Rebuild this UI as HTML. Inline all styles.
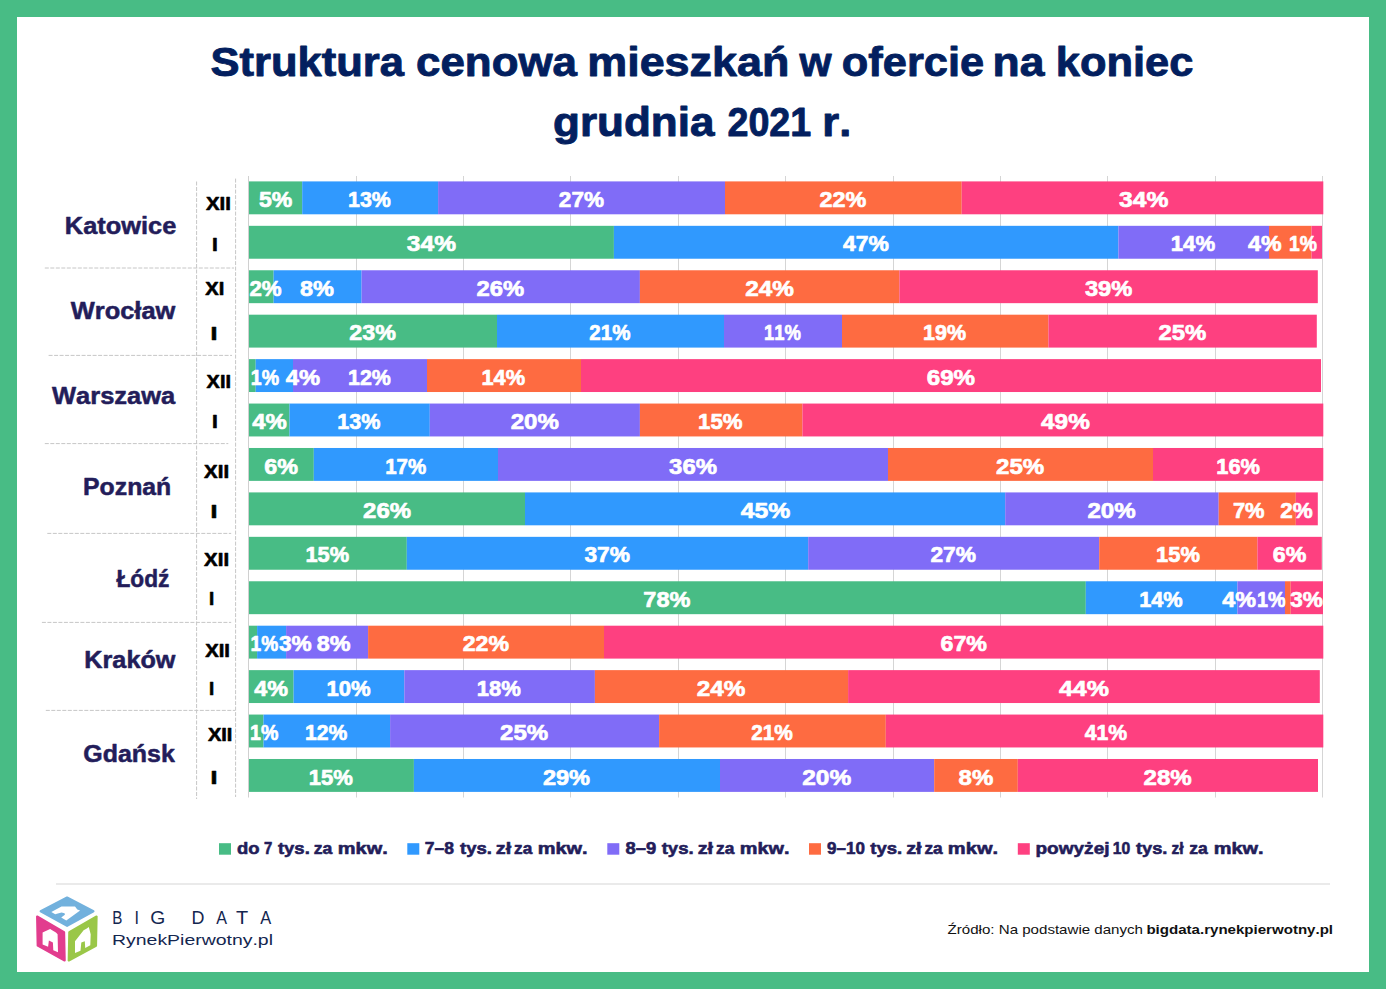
<!DOCTYPE html>
<html><head><meta charset="utf-8"><title>Struktura cenowa mieszkań</title>
<style>
html,body{margin:0;padding:0;background:#fff;}
body{width:1386px;height:989px;overflow:hidden;}
svg{display:block;}
text{font-family:"Liberation Sans", sans-serif;font-kerning:none;}
</style></head><body>
<svg width="1386" height="989" viewBox="0 0 1386 989">
<rect x="0" y="0" width="1386" height="989" fill="#48BC85"/>
<rect x="17" y="17" width="1352" height="955" fill="#FFFFFF"/>
<text x="210.50" y="75.75" font-size="40.00" font-weight="bold" fill="#031F5F" stroke="#031F5F" stroke-width="0.9" stroke-linejoin="round" textLength="193.48" lengthAdjust="spacingAndGlyphs">Struktura</text>
<text x="416.04" y="75.75" font-size="40.00" font-weight="bold" fill="#031F5F" stroke="#031F5F" stroke-width="0.9" stroke-linejoin="round" textLength="160.94" lengthAdjust="spacingAndGlyphs">cenowa</text>
<text x="587.29" y="75.75" font-size="40.00" font-weight="bold" fill="#031F5F" stroke="#031F5F" stroke-width="0.9" stroke-linejoin="round" textLength="202.04" lengthAdjust="spacingAndGlyphs">mieszkań</text>
<text x="799.47" y="75.75" font-size="40.00" font-weight="bold" fill="#031F5F" stroke="#031F5F" stroke-width="0.9" stroke-linejoin="round" textLength="32.10" lengthAdjust="spacingAndGlyphs">w</text>
<text x="841.85" y="75.75" font-size="40.00" font-weight="bold" fill="#031F5F" stroke="#031F5F" stroke-width="0.9" stroke-linejoin="round" textLength="142.38" lengthAdjust="spacingAndGlyphs">ofercie</text>
<text x="992.52" y="75.75" font-size="40.00" font-weight="bold" fill="#031F5F" stroke="#031F5F" stroke-width="0.9" stroke-linejoin="round" textLength="51.85" lengthAdjust="spacingAndGlyphs">na</text>
<text x="1055.72" y="75.75" font-size="40.00" font-weight="bold" fill="#031F5F" stroke="#031F5F" stroke-width="0.9" stroke-linejoin="round" textLength="137.61" lengthAdjust="spacingAndGlyphs">koniec</text>
<text x="553.04" y="136.35" font-size="40.00" font-weight="bold" fill="#031F5F" stroke="#031F5F" stroke-width="0.9" stroke-linejoin="round" textLength="161.43" lengthAdjust="spacingAndGlyphs">grudnia</text>
<text x="727.44" y="136.35" font-size="40.00" font-weight="bold" fill="#031F5F" stroke="#031F5F" stroke-width="0.9" stroke-linejoin="round" textLength="83.75" lengthAdjust="spacingAndGlyphs">2021</text>
<text x="822.39" y="136.35" font-size="40.00" font-weight="bold" fill="#031F5F" stroke="#031F5F" stroke-width="0.9" stroke-linejoin="round" textLength="28.95" lengthAdjust="spacingAndGlyphs">r.</text>
<rect x="356" y="176" width="1" height="621.5" fill="#D5D5D5"/>
<rect x="463" y="176" width="1" height="621.5" fill="#D5D5D5"/>
<rect x="570" y="176" width="1" height="621.5" fill="#D5D5D5"/>
<rect x="678" y="176" width="1" height="621.5" fill="#D5D5D5"/>
<rect x="785" y="176" width="1" height="621.5" fill="#D5D5D5"/>
<rect x="893" y="176" width="1" height="621.5" fill="#D5D5D5"/>
<rect x="1000" y="176" width="1" height="621.5" fill="#D5D5D5"/>
<rect x="1107" y="176" width="1" height="621.5" fill="#D5D5D5"/>
<rect x="1215" y="176" width="1" height="621.5" fill="#D5D5D5"/>
<rect x="1322" y="176" width="1" height="621.5" fill="#D5D5D5"/>
<rect x="248" y="176" width="1" height="621.5" fill="#D0D0D0"/>
<line x1="196.6" y1="181.5" x2="196.6" y2="799" stroke="#C6C6C6" stroke-width="1" stroke-dasharray="4 1.5"/>
<line x1="235.6" y1="178.6" x2="235.6" y2="797" stroke="#C6C6C6" stroke-width="1" stroke-dasharray="4 1.5"/>
<line x1="44.8" y1="268" x2="234" y2="268" stroke="#C6C6C6" stroke-width="1" stroke-dasharray="4 1.5"/>
<line x1="48.6" y1="355.4" x2="232" y2="355.4" stroke="#C6C6C6" stroke-width="1" stroke-dasharray="4 1.5"/>
<line x1="44.8" y1="443.6" x2="228.3" y2="443.6" stroke="#C6C6C6" stroke-width="1" stroke-dasharray="4 1.5"/>
<line x1="47.3" y1="533.4" x2="231.2" y2="533.4" stroke="#C6C6C6" stroke-width="1" stroke-dasharray="4 1.5"/>
<line x1="41.9" y1="622.4" x2="231.2" y2="622.4" stroke="#C6C6C6" stroke-width="1" stroke-dasharray="4 1.5"/>
<line x1="45.8" y1="710.4" x2="235" y2="710.4" stroke="#C6C6C6" stroke-width="1" stroke-dasharray="4 1.5"/>
<rect x="249.00" y="181.40" width="53.20" height="32.9" fill="#48BC85"/>
<rect x="302.20" y="181.40" width="135.90" height="32.9" fill="#3099FE"/>
<rect x="438.10" y="181.40" width="286.90" height="32.9" fill="#806CF7"/>
<rect x="725.00" y="181.40" width="236.70" height="32.9" fill="#FE6B41"/>
<rect x="961.70" y="181.40" width="361.60" height="32.9" fill="#FE4080"/>
<rect x="249.00" y="225.83" width="364.90" height="32.9" fill="#48BC85"/>
<rect x="613.90" y="225.83" width="504.50" height="32.9" fill="#3099FE"/>
<rect x="1118.40" y="225.83" width="150.60" height="32.9" fill="#806CF7"/>
<rect x="1269.00" y="225.83" width="42.50" height="32.9" fill="#FE6B41"/>
<rect x="1311.50" y="225.83" width="10.50" height="32.9" fill="#FE4080"/>
<rect x="249.00" y="270.26" width="24.60" height="32.9" fill="#48BC85"/>
<rect x="273.60" y="270.26" width="88.00" height="32.9" fill="#3099FE"/>
<rect x="361.60" y="270.26" width="278.30" height="32.9" fill="#806CF7"/>
<rect x="639.90" y="270.26" width="259.50" height="32.9" fill="#FE6B41"/>
<rect x="899.40" y="270.26" width="418.40" height="32.9" fill="#FE4080"/>
<rect x="249.00" y="314.69" width="248.00" height="32.9" fill="#48BC85"/>
<rect x="497.00" y="314.69" width="227.00" height="32.9" fill="#3099FE"/>
<rect x="724.00" y="314.69" width="118.00" height="32.9" fill="#806CF7"/>
<rect x="842.00" y="314.69" width="206.40" height="32.9" fill="#FE6B41"/>
<rect x="1048.40" y="314.69" width="268.40" height="32.9" fill="#FE4080"/>
<rect x="249.00" y="359.12" width="6.70" height="32.9" fill="#48BC85"/>
<rect x="255.70" y="359.12" width="37.30" height="32.9" fill="#3099FE"/>
<rect x="293.00" y="359.12" width="134.00" height="32.9" fill="#806CF7"/>
<rect x="427.00" y="359.12" width="154.00" height="32.9" fill="#FE6B41"/>
<rect x="581.00" y="359.12" width="740.00" height="32.9" fill="#FE4080"/>
<rect x="249.00" y="403.55" width="40.50" height="32.9" fill="#48BC85"/>
<rect x="289.50" y="403.55" width="140.30" height="32.9" fill="#3099FE"/>
<rect x="429.80" y="403.55" width="210.10" height="32.9" fill="#806CF7"/>
<rect x="639.90" y="403.55" width="162.50" height="32.9" fill="#FE6B41"/>
<rect x="802.40" y="403.55" width="520.90" height="32.9" fill="#FE4080"/>
<rect x="249.00" y="447.98" width="64.80" height="32.9" fill="#48BC85"/>
<rect x="313.80" y="447.98" width="184.20" height="32.9" fill="#3099FE"/>
<rect x="498.00" y="447.98" width="390.00" height="32.9" fill="#806CF7"/>
<rect x="888.00" y="447.98" width="265.00" height="32.9" fill="#FE6B41"/>
<rect x="1153.00" y="447.98" width="170.30" height="32.9" fill="#FE4080"/>
<rect x="249.00" y="492.41" width="276.00" height="32.9" fill="#48BC85"/>
<rect x="525.00" y="492.41" width="480.20" height="32.9" fill="#3099FE"/>
<rect x="1005.20" y="492.41" width="213.50" height="32.9" fill="#806CF7"/>
<rect x="1218.70" y="492.41" width="77.10" height="32.9" fill="#FE6B41"/>
<rect x="1295.80" y="492.41" width="22.00" height="32.9" fill="#FE4080"/>
<rect x="249.00" y="536.84" width="157.80" height="32.9" fill="#48BC85"/>
<rect x="406.80" y="536.84" width="401.40" height="32.9" fill="#3099FE"/>
<rect x="808.20" y="536.84" width="291.00" height="32.9" fill="#806CF7"/>
<rect x="1099.20" y="536.84" width="158.20" height="32.9" fill="#FE6B41"/>
<rect x="1257.40" y="536.84" width="64.40" height="32.9" fill="#FE4080"/>
<rect x="249.00" y="581.27" width="836.80" height="32.9" fill="#48BC85"/>
<rect x="1085.80" y="581.27" width="151.60" height="32.9" fill="#3099FE"/>
<rect x="1237.40" y="581.27" width="47.60" height="32.9" fill="#806CF7"/>
<rect x="1285.00" y="581.27" width="5.70" height="32.9" fill="#FE6B41"/>
<rect x="1290.70" y="581.27" width="32.30" height="32.9" fill="#FE4080"/>
<rect x="249.00" y="625.70" width="8.10" height="32.9" fill="#48BC85"/>
<rect x="257.10" y="625.70" width="29.00" height="32.9" fill="#3099FE"/>
<rect x="286.10" y="625.70" width="82.00" height="32.9" fill="#806CF7"/>
<rect x="368.10" y="625.70" width="235.90" height="32.9" fill="#FE6B41"/>
<rect x="604.00" y="625.70" width="719.30" height="32.9" fill="#FE4080"/>
<rect x="249.00" y="670.13" width="44.60" height="32.9" fill="#48BC85"/>
<rect x="293.60" y="670.13" width="110.70" height="32.9" fill="#3099FE"/>
<rect x="404.30" y="670.13" width="190.60" height="32.9" fill="#806CF7"/>
<rect x="594.90" y="670.13" width="253.20" height="32.9" fill="#FE6B41"/>
<rect x="848.10" y="670.13" width="471.70" height="32.9" fill="#FE4080"/>
<rect x="249.00" y="714.56" width="14.50" height="32.9" fill="#48BC85"/>
<rect x="263.50" y="714.56" width="126.60" height="32.9" fill="#3099FE"/>
<rect x="390.10" y="714.56" width="269.00" height="32.9" fill="#806CF7"/>
<rect x="659.10" y="714.56" width="226.70" height="32.9" fill="#FE6B41"/>
<rect x="885.80" y="714.56" width="437.50" height="32.9" fill="#FE4080"/>
<rect x="249.00" y="758.99" width="164.90" height="32.9" fill="#48BC85"/>
<rect x="413.90" y="758.99" width="306.10" height="32.9" fill="#3099FE"/>
<rect x="720.00" y="758.99" width="214.20" height="32.9" fill="#806CF7"/>
<rect x="934.20" y="758.99" width="83.60" height="32.9" fill="#FE6B41"/>
<rect x="1017.80" y="758.99" width="300.20" height="32.9" fill="#FE4080"/>
<text x="258.94" y="206.95" font-size="22.82" font-weight="bold" fill="#FFFFFF" stroke="#FFFFFF" stroke-width="0.7" stroke-linejoin="round" textLength="33.32" lengthAdjust="spacingAndGlyphs">5%</text>
<text x="348.00" y="206.95" font-size="22.82" font-weight="bold" fill="#FFFFFF" stroke="#FFFFFF" stroke-width="0.7" stroke-linejoin="round" textLength="42.81" lengthAdjust="spacingAndGlyphs">13%</text>
<text x="558.87" y="206.95" font-size="22.82" font-weight="bold" fill="#FFFFFF" stroke="#FFFFFF" stroke-width="0.7" stroke-linejoin="round" textLength="45.07" lengthAdjust="spacingAndGlyphs">27%</text>
<text x="819.44" y="206.95" font-size="22.82" font-weight="bold" fill="#FFFFFF" stroke="#FFFFFF" stroke-width="0.7" stroke-linejoin="round" textLength="46.83" lengthAdjust="spacingAndGlyphs">22%</text>
<text x="1119.08" y="206.95" font-size="22.82" font-weight="bold" fill="#FFFFFF" stroke="#FFFFFF" stroke-width="0.7" stroke-linejoin="round" textLength="49.32" lengthAdjust="spacingAndGlyphs">34%</text>
<text x="406.89" y="251.38" font-size="22.82" font-weight="bold" fill="#FFFFFF" stroke="#FFFFFF" stroke-width="0.7" stroke-linejoin="round" textLength="49.11" lengthAdjust="spacingAndGlyphs">34%</text>
<text x="843.10" y="251.38" font-size="22.82" font-weight="bold" fill="#FFFFFF" stroke="#FFFFFF" stroke-width="0.7" stroke-linejoin="round" textLength="45.85" lengthAdjust="spacingAndGlyphs">47%</text>
<text x="1170.75" y="251.38" font-size="22.82" font-weight="bold" fill="#FFFFFF" stroke="#FFFFFF" stroke-width="0.7" stroke-linejoin="round" textLength="44.38" lengthAdjust="spacingAndGlyphs">14%</text>
<text x="1248.10" y="251.38" font-size="22.82" font-weight="bold" fill="#FFFFFF" stroke="#FFFFFF" stroke-width="0.7" stroke-linejoin="round" textLength="33.46" lengthAdjust="spacingAndGlyphs">4%</text>
<text x="1288.93" y="251.38" font-size="22.82" font-weight="bold" fill="#FFFFFF" stroke="#FFFFFF" stroke-width="0.7" stroke-linejoin="round" textLength="27.93" lengthAdjust="spacingAndGlyphs">1%</text>
<text x="249.48" y="295.81" font-size="22.82" font-weight="bold" fill="#FFFFFF" stroke="#FFFFFF" stroke-width="0.7" stroke-linejoin="round" textLength="32.16" lengthAdjust="spacingAndGlyphs">2%</text>
<text x="300.00" y="295.81" font-size="22.82" font-weight="bold" fill="#FFFFFF" stroke="#FFFFFF" stroke-width="0.7" stroke-linejoin="round" textLength="33.97" lengthAdjust="spacingAndGlyphs">8%</text>
<text x="476.62" y="295.81" font-size="22.82" font-weight="bold" fill="#FFFFFF" stroke="#FFFFFF" stroke-width="0.7" stroke-linejoin="round" textLength="47.65" lengthAdjust="spacingAndGlyphs">26%</text>
<text x="745.31" y="295.81" font-size="22.82" font-weight="bold" fill="#FFFFFF" stroke="#FFFFFF" stroke-width="0.7" stroke-linejoin="round" textLength="48.68" lengthAdjust="spacingAndGlyphs">24%</text>
<text x="1084.91" y="295.81" font-size="22.82" font-weight="bold" fill="#FFFFFF" stroke="#FFFFFF" stroke-width="0.7" stroke-linejoin="round" textLength="47.37" lengthAdjust="spacingAndGlyphs">39%</text>
<text x="349.24" y="340.24" font-size="22.82" font-weight="bold" fill="#FFFFFF" stroke="#FFFFFF" stroke-width="0.7" stroke-linejoin="round" textLength="46.62" lengthAdjust="spacingAndGlyphs">23%</text>
<text x="589.34" y="340.24" font-size="22.82" font-weight="bold" fill="#FFFFFF" stroke="#FFFFFF" stroke-width="0.7" stroke-linejoin="round" textLength="41.05" lengthAdjust="spacingAndGlyphs">21%</text>
<text x="763.99" y="340.24" font-size="22.82" font-weight="bold" fill="#FFFFFF" stroke="#FFFFFF" stroke-width="0.7" stroke-linejoin="round" textLength="36.95" lengthAdjust="spacingAndGlyphs">11%</text>
<text x="923.10" y="340.24" font-size="22.82" font-weight="bold" fill="#FFFFFF" stroke="#FFFFFF" stroke-width="0.7" stroke-linejoin="round" textLength="43.02" lengthAdjust="spacingAndGlyphs">19%</text>
<text x="1158.42" y="340.24" font-size="22.82" font-weight="bold" fill="#FFFFFF" stroke="#FFFFFF" stroke-width="0.7" stroke-linejoin="round" textLength="47.86" lengthAdjust="spacingAndGlyphs">25%</text>
<text x="250.82" y="384.67" font-size="22.82" font-weight="bold" fill="#FFFFFF" stroke="#FFFFFF" stroke-width="0.7" stroke-linejoin="round" textLength="28.25" lengthAdjust="spacingAndGlyphs">1%</text>
<text x="285.79" y="384.67" font-size="22.82" font-weight="bold" fill="#FFFFFF" stroke="#FFFFFF" stroke-width="0.7" stroke-linejoin="round" textLength="34.28" lengthAdjust="spacingAndGlyphs">4%</text>
<text x="348.00" y="384.67" font-size="22.82" font-weight="bold" fill="#FFFFFF" stroke="#FFFFFF" stroke-width="0.7" stroke-linejoin="round" textLength="42.81" lengthAdjust="spacingAndGlyphs">12%</text>
<text x="481.38" y="384.67" font-size="22.82" font-weight="bold" fill="#FFFFFF" stroke="#FFFFFF" stroke-width="0.7" stroke-linejoin="round" textLength="43.65" lengthAdjust="spacingAndGlyphs">14%</text>
<text x="926.77" y="384.67" font-size="22.82" font-weight="bold" fill="#FFFFFF" stroke="#FFFFFF" stroke-width="0.7" stroke-linejoin="round" textLength="48.32" lengthAdjust="spacingAndGlyphs">69%</text>
<text x="252.19" y="429.10" font-size="22.82" font-weight="bold" fill="#FFFFFF" stroke="#FFFFFF" stroke-width="0.7" stroke-linejoin="round" textLength="34.59" lengthAdjust="spacingAndGlyphs">4%</text>
<text x="337.29" y="429.10" font-size="22.82" font-weight="bold" fill="#FFFFFF" stroke="#FFFFFF" stroke-width="0.7" stroke-linejoin="round" textLength="43.13" lengthAdjust="spacingAndGlyphs">13%</text>
<text x="510.72" y="429.10" font-size="22.82" font-weight="bold" fill="#FFFFFF" stroke="#FFFFFF" stroke-width="0.7" stroke-linejoin="round" textLength="48.17" lengthAdjust="spacingAndGlyphs">20%</text>
<text x="698.05" y="429.10" font-size="22.82" font-weight="bold" fill="#FFFFFF" stroke="#FFFFFF" stroke-width="0.7" stroke-linejoin="round" textLength="44.38" lengthAdjust="spacingAndGlyphs">15%</text>
<text x="1041.08" y="429.10" font-size="22.82" font-weight="bold" fill="#FFFFFF" stroke="#FFFFFF" stroke-width="0.7" stroke-linejoin="round" textLength="48.71" lengthAdjust="spacingAndGlyphs">49%</text>
<text x="264.29" y="473.53" font-size="22.82" font-weight="bold" fill="#FFFFFF" stroke="#FFFFFF" stroke-width="0.7" stroke-linejoin="round" textLength="33.77" lengthAdjust="spacingAndGlyphs">6%</text>
<text x="385.16" y="473.53" font-size="22.82" font-weight="bold" fill="#FFFFFF" stroke="#FFFFFF" stroke-width="0.7" stroke-linejoin="round" textLength="41.03" lengthAdjust="spacingAndGlyphs">17%</text>
<text x="669.10" y="473.53" font-size="22.82" font-weight="bold" fill="#FFFFFF" stroke="#FFFFFF" stroke-width="0.7" stroke-linejoin="round" textLength="47.88" lengthAdjust="spacingAndGlyphs">36%</text>
<text x="996.12" y="473.53" font-size="22.82" font-weight="bold" fill="#FFFFFF" stroke="#FFFFFF" stroke-width="0.7" stroke-linejoin="round" textLength="48.17" lengthAdjust="spacingAndGlyphs">25%</text>
<text x="1216.28" y="473.53" font-size="22.82" font-weight="bold" fill="#FFFFFF" stroke="#FFFFFF" stroke-width="0.7" stroke-linejoin="round" textLength="43.65" lengthAdjust="spacingAndGlyphs">16%</text>
<text x="363.12" y="517.96" font-size="22.82" font-weight="bold" fill="#FFFFFF" stroke="#FFFFFF" stroke-width="0.7" stroke-linejoin="round" textLength="47.96" lengthAdjust="spacingAndGlyphs">26%</text>
<text x="740.78" y="517.96" font-size="22.82" font-weight="bold" fill="#FFFFFF" stroke="#FFFFFF" stroke-width="0.7" stroke-linejoin="round" textLength="49.53" lengthAdjust="spacingAndGlyphs">45%</text>
<text x="1087.42" y="517.96" font-size="22.82" font-weight="bold" fill="#FFFFFF" stroke="#FFFFFF" stroke-width="0.7" stroke-linejoin="round" textLength="48.17" lengthAdjust="spacingAndGlyphs">20%</text>
<text x="1232.91" y="517.96" font-size="22.82" font-weight="bold" fill="#FFFFFF" stroke="#FFFFFF" stroke-width="0.7" stroke-linejoin="round" textLength="31.62" lengthAdjust="spacingAndGlyphs">7%</text>
<text x="1280.27" y="517.96" font-size="22.82" font-weight="bold" fill="#FFFFFF" stroke="#FFFFFF" stroke-width="0.7" stroke-linejoin="round" textLength="32.37" lengthAdjust="spacingAndGlyphs">2%</text>
<text x="305.48" y="562.39" font-size="22.82" font-weight="bold" fill="#FFFFFF" stroke="#FFFFFF" stroke-width="0.7" stroke-linejoin="round" textLength="43.65" lengthAdjust="spacingAndGlyphs">15%</text>
<text x="584.43" y="562.39" font-size="22.82" font-weight="bold" fill="#FFFFFF" stroke="#FFFFFF" stroke-width="0.7" stroke-linejoin="round" textLength="45.52" lengthAdjust="spacingAndGlyphs">37%</text>
<text x="930.46" y="562.39" font-size="22.82" font-weight="bold" fill="#FFFFFF" stroke="#FFFFFF" stroke-width="0.7" stroke-linejoin="round" textLength="45.59" lengthAdjust="spacingAndGlyphs">27%</text>
<text x="1156.07" y="562.39" font-size="22.82" font-weight="bold" fill="#FFFFFF" stroke="#FFFFFF" stroke-width="0.7" stroke-linejoin="round" textLength="43.86" lengthAdjust="spacingAndGlyphs">15%</text>
<text x="1272.80" y="562.39" font-size="22.82" font-weight="bold" fill="#FFFFFF" stroke="#FFFFFF" stroke-width="0.7" stroke-linejoin="round" textLength="33.56" lengthAdjust="spacingAndGlyphs">6%</text>
<text x="643.34" y="606.82" font-size="22.82" font-weight="bold" fill="#FFFFFF" stroke="#FFFFFF" stroke-width="0.7" stroke-linejoin="round" textLength="47.03" lengthAdjust="spacingAndGlyphs">78%</text>
<text x="1139.18" y="606.82" font-size="22.82" font-weight="bold" fill="#FFFFFF" stroke="#FFFFFF" stroke-width="0.7" stroke-linejoin="round" textLength="43.54" lengthAdjust="spacingAndGlyphs">14%</text>
<text x="1222.30" y="606.82" font-size="22.82" font-weight="bold" fill="#FFFFFF" stroke="#FFFFFF" stroke-width="0.7" stroke-linejoin="round" textLength="33.77" lengthAdjust="spacingAndGlyphs">4%</text>
<text x="1257.01" y="606.82" font-size="22.82" font-weight="bold" fill="#FFFFFF" stroke="#FFFFFF" stroke-width="0.7" stroke-linejoin="round" textLength="28.57" lengthAdjust="spacingAndGlyphs">1%</text>
<text x="1290.13" y="606.82" font-size="22.82" font-weight="bold" fill="#FFFFFF" stroke="#FFFFFF" stroke-width="0.7" stroke-linejoin="round" textLength="32.61" lengthAdjust="spacingAndGlyphs">3%</text>
<text x="250.55" y="651.25" font-size="22.82" font-weight="bold" fill="#FFFFFF" stroke="#FFFFFF" stroke-width="0.7" stroke-linejoin="round" textLength="27.61" lengthAdjust="spacingAndGlyphs">1%</text>
<text x="278.93" y="651.25" font-size="22.82" font-weight="bold" fill="#FFFFFF" stroke="#FFFFFF" stroke-width="0.7" stroke-linejoin="round" textLength="32.72" lengthAdjust="spacingAndGlyphs">3%</text>
<text x="316.81" y="651.25" font-size="22.82" font-weight="bold" fill="#FFFFFF" stroke="#FFFFFF" stroke-width="0.7" stroke-linejoin="round" textLength="33.76" lengthAdjust="spacingAndGlyphs">8%</text>
<text x="462.75" y="651.25" font-size="22.82" font-weight="bold" fill="#FFFFFF" stroke="#FFFFFF" stroke-width="0.7" stroke-linejoin="round" textLength="46.31" lengthAdjust="spacingAndGlyphs">22%</text>
<text x="940.50" y="651.25" font-size="22.82" font-weight="bold" fill="#FFFFFF" stroke="#FFFFFF" stroke-width="0.7" stroke-linejoin="round" textLength="46.46" lengthAdjust="spacingAndGlyphs">67%</text>
<text x="254.20" y="695.68" font-size="22.82" font-weight="bold" fill="#FFFFFF" stroke="#FFFFFF" stroke-width="0.7" stroke-linejoin="round" textLength="33.77" lengthAdjust="spacingAndGlyphs">4%</text>
<text x="326.46" y="695.68" font-size="22.82" font-weight="bold" fill="#FFFFFF" stroke="#FFFFFF" stroke-width="0.7" stroke-linejoin="round" textLength="44.17" lengthAdjust="spacingAndGlyphs">10%</text>
<text x="476.86" y="695.68" font-size="22.82" font-weight="bold" fill="#FFFFFF" stroke="#FFFFFF" stroke-width="0.7" stroke-linejoin="round" textLength="44.07" lengthAdjust="spacingAndGlyphs">18%</text>
<text x="696.81" y="695.68" font-size="22.82" font-weight="bold" fill="#FFFFFF" stroke="#FFFFFF" stroke-width="0.7" stroke-linejoin="round" textLength="48.68" lengthAdjust="spacingAndGlyphs">24%</text>
<text x="1058.97" y="695.68" font-size="22.82" font-weight="bold" fill="#FFFFFF" stroke="#FFFFFF" stroke-width="0.7" stroke-linejoin="round" textLength="50.04" lengthAdjust="spacingAndGlyphs">44%</text>
<text x="250.02" y="740.11" font-size="22.82" font-weight="bold" fill="#FFFFFF" stroke="#FFFFFF" stroke-width="0.7" stroke-linejoin="round" textLength="28.25" lengthAdjust="spacingAndGlyphs">1%</text>
<text x="305.02" y="740.11" font-size="22.82" font-weight="bold" fill="#FFFFFF" stroke="#FFFFFF" stroke-width="0.7" stroke-linejoin="round" textLength="42.29" lengthAdjust="spacingAndGlyphs">12%</text>
<text x="500.12" y="740.11" font-size="22.82" font-weight="bold" fill="#FFFFFF" stroke="#FFFFFF" stroke-width="0.7" stroke-linejoin="round" textLength="48.17" lengthAdjust="spacingAndGlyphs">25%</text>
<text x="751.23" y="740.11" font-size="22.82" font-weight="bold" fill="#FFFFFF" stroke="#FFFFFF" stroke-width="0.7" stroke-linejoin="round" textLength="41.67" lengthAdjust="spacingAndGlyphs">21%</text>
<text x="1084.63" y="740.11" font-size="22.82" font-weight="bold" fill="#FFFFFF" stroke="#FFFFFF" stroke-width="0.7" stroke-linejoin="round" textLength="42.48" lengthAdjust="spacingAndGlyphs">41%</text>
<text x="308.76" y="784.54" font-size="22.82" font-weight="bold" fill="#FFFFFF" stroke="#FFFFFF" stroke-width="0.7" stroke-linejoin="round" textLength="44.17" lengthAdjust="spacingAndGlyphs">15%</text>
<text x="542.93" y="784.54" font-size="22.82" font-weight="bold" fill="#FFFFFF" stroke="#FFFFFF" stroke-width="0.7" stroke-linejoin="round" textLength="47.14" lengthAdjust="spacingAndGlyphs">29%</text>
<text x="802.20" y="784.54" font-size="22.82" font-weight="bold" fill="#FFFFFF" stroke="#FFFFFF" stroke-width="0.7" stroke-linejoin="round" textLength="48.99" lengthAdjust="spacingAndGlyphs">20%</text>
<text x="958.59" y="784.54" font-size="22.82" font-weight="bold" fill="#FFFFFF" stroke="#FFFFFF" stroke-width="0.7" stroke-linejoin="round" textLength="34.69" lengthAdjust="spacingAndGlyphs">8%</text>
<text x="1143.52" y="784.54" font-size="22.82" font-weight="bold" fill="#FFFFFF" stroke="#FFFFFF" stroke-width="0.7" stroke-linejoin="round" textLength="48.17" lengthAdjust="spacingAndGlyphs">28%</text>
<text x="64.85" y="234.25" font-size="23.00" font-weight="bold" fill="#231D5A" stroke="#231D5A" stroke-width="0.5" stroke-linejoin="round" textLength="111.47" lengthAdjust="spacingAndGlyphs">Katowice</text>
<text x="70.73" y="318.65" font-size="23.00" font-weight="bold" fill="#231D5A" stroke="#231D5A" stroke-width="0.5" stroke-linejoin="round" textLength="104.68" lengthAdjust="spacingAndGlyphs">Wrocław</text>
<text x="52.03" y="403.55" font-size="23.00" font-weight="bold" fill="#231D5A" stroke="#231D5A" stroke-width="0.5" stroke-linejoin="round" textLength="123.26" lengthAdjust="spacingAndGlyphs">Warszawa</text>
<text x="83.09" y="494.75" font-size="23.00" font-weight="bold" fill="#231D5A" stroke="#231D5A" stroke-width="0.5" stroke-linejoin="round" textLength="88.20" lengthAdjust="spacingAndGlyphs">Poznań</text>
<text x="116.45" y="586.75" font-size="23.00" font-weight="bold" fill="#231D5A" stroke="#231D5A" stroke-width="0.5" stroke-linejoin="round" textLength="52.92" lengthAdjust="spacingAndGlyphs">Łódź</text>
<text x="84.36" y="668.45" font-size="23.00" font-weight="bold" fill="#231D5A" stroke="#231D5A" stroke-width="0.5" stroke-linejoin="round" textLength="91.04" lengthAdjust="spacingAndGlyphs">Kraków</text>
<text x="83.33" y="762.15" font-size="23.00" font-weight="bold" fill="#231D5A" stroke="#231D5A" stroke-width="0.5" stroke-linejoin="round" textLength="91.50" lengthAdjust="spacingAndGlyphs">Gdańsk</text>
<text x="206.02" y="209.70" font-size="19.00" font-weight="bold" fill="#000000" stroke="#000000" stroke-width="0.6" stroke-linejoin="round" textLength="24.94" lengthAdjust="spacingAndGlyphs">XII</text>
<text x="212.11" y="251.10" font-size="19.00" font-weight="bold" fill="#000000" stroke="#000000" stroke-width="0.6" stroke-linejoin="round" textLength="5.79" lengthAdjust="spacingAndGlyphs">I</text>
<text x="205.22" y="295.20" font-size="19.00" font-weight="bold" fill="#000000" stroke="#000000" stroke-width="0.6" stroke-linejoin="round" textLength="19.02" lengthAdjust="spacingAndGlyphs">XI</text>
<text x="210.53" y="340.00" font-size="19.00" font-weight="bold" fill="#000000" stroke="#000000" stroke-width="0.6" stroke-linejoin="round" textLength="6.94" lengthAdjust="spacingAndGlyphs">I</text>
<text x="206.63" y="387.80" font-size="19.00" font-weight="bold" fill="#000000" stroke="#000000" stroke-width="0.6" stroke-linejoin="round" textLength="24.30" lengthAdjust="spacingAndGlyphs">XII</text>
<text x="212.11" y="427.80" font-size="19.00" font-weight="bold" fill="#000000" stroke="#000000" stroke-width="0.6" stroke-linejoin="round" textLength="5.79" lengthAdjust="spacingAndGlyphs">I</text>
<text x="204.12" y="477.70" font-size="19.00" font-weight="bold" fill="#000000" stroke="#000000" stroke-width="0.6" stroke-linejoin="round" textLength="24.94" lengthAdjust="spacingAndGlyphs">XII</text>
<text x="210.53" y="518.40" font-size="19.00" font-weight="bold" fill="#000000" stroke="#000000" stroke-width="0.6" stroke-linejoin="round" textLength="6.94" lengthAdjust="spacingAndGlyphs">I</text>
<text x="204.12" y="565.90" font-size="19.00" font-weight="bold" fill="#000000" stroke="#000000" stroke-width="0.6" stroke-linejoin="round" textLength="24.94" lengthAdjust="spacingAndGlyphs">XII</text>
<text x="208.95" y="605.30" font-size="19.00" font-weight="bold" fill="#000000" stroke="#000000" stroke-width="0.6" stroke-linejoin="round" textLength="5.21" lengthAdjust="spacingAndGlyphs">I</text>
<text x="205.22" y="656.60" font-size="19.00" font-weight="bold" fill="#000000" stroke="#000000" stroke-width="0.6" stroke-linejoin="round" textLength="24.73" lengthAdjust="spacingAndGlyphs">XII</text>
<text x="208.95" y="695.00" font-size="19.00" font-weight="bold" fill="#000000" stroke="#000000" stroke-width="0.6" stroke-linejoin="round" textLength="5.21" lengthAdjust="spacingAndGlyphs">I</text>
<text x="207.92" y="741.30" font-size="19.00" font-weight="bold" fill="#000000" stroke="#000000" stroke-width="0.6" stroke-linejoin="round" textLength="24.52" lengthAdjust="spacingAndGlyphs">XII</text>
<text x="210.53" y="783.90" font-size="19.00" font-weight="bold" fill="#000000" stroke="#000000" stroke-width="0.6" stroke-linejoin="round" textLength="6.94" lengthAdjust="spacingAndGlyphs">I</text>
<rect x="219" y="843.2" width="12" height="11.5" fill="#48BC85"/>
<text x="236.94" y="853.70" font-size="17.15" font-weight="bold" fill="#231D5A" stroke="#231D5A" stroke-width="0.6" stroke-linejoin="round" textLength="22.58" lengthAdjust="spacingAndGlyphs">do</text>
<text x="264.06" y="853.70" font-size="17.15" font-weight="bold" fill="#231D5A" stroke="#231D5A" stroke-width="0.6" stroke-linejoin="round" textLength="8.30" lengthAdjust="spacingAndGlyphs">7</text>
<text x="277.97" y="853.70" font-size="17.15" font-weight="bold" fill="#231D5A" stroke="#231D5A" stroke-width="0.6" stroke-linejoin="round" textLength="31.80" lengthAdjust="spacingAndGlyphs">tys.</text>
<text x="313.70" y="853.70" font-size="17.15" font-weight="bold" fill="#231D5A" stroke="#231D5A" stroke-width="0.6" stroke-linejoin="round" textLength="18.59" lengthAdjust="spacingAndGlyphs">za</text>
<text x="337.78" y="853.70" font-size="17.15" font-weight="bold" fill="#231D5A" stroke="#231D5A" stroke-width="0.6" stroke-linejoin="round" textLength="49.99" lengthAdjust="spacingAndGlyphs">mkw.</text>
<rect x="407.3" y="843.2" width="12" height="11.5" fill="#3099FE"/>
<text x="424.75" y="853.70" font-size="17.15" font-weight="bold" fill="#231D5A" stroke="#231D5A" stroke-width="0.6" stroke-linejoin="round" textLength="29.19" lengthAdjust="spacingAndGlyphs">7–8</text>
<text x="459.97" y="853.70" font-size="17.15" font-weight="bold" fill="#231D5A" stroke="#231D5A" stroke-width="0.6" stroke-linejoin="round" textLength="31.90" lengthAdjust="spacingAndGlyphs">tys.</text>
<text x="495.81" y="853.70" font-size="17.15" font-weight="bold" fill="#231D5A" stroke="#231D5A" stroke-width="0.6" stroke-linejoin="round" textLength="15.34" lengthAdjust="spacingAndGlyphs">zł</text>
<text x="514.11" y="853.70" font-size="17.15" font-weight="bold" fill="#231D5A" stroke="#231D5A" stroke-width="0.6" stroke-linejoin="round" textLength="18.18" lengthAdjust="spacingAndGlyphs">za</text>
<text x="537.68" y="853.70" font-size="17.15" font-weight="bold" fill="#231D5A" stroke="#231D5A" stroke-width="0.6" stroke-linejoin="round" textLength="49.99" lengthAdjust="spacingAndGlyphs">mkw.</text>
<rect x="607.3" y="843.2" width="12" height="11.5" fill="#806CF7"/>
<text x="625.52" y="853.70" font-size="17.15" font-weight="bold" fill="#231D5A" stroke="#231D5A" stroke-width="0.6" stroke-linejoin="round" textLength="30.67" lengthAdjust="spacingAndGlyphs">8–9</text>
<text x="661.67" y="853.70" font-size="17.15" font-weight="bold" fill="#231D5A" stroke="#231D5A" stroke-width="0.6" stroke-linejoin="round" textLength="32.01" lengthAdjust="spacingAndGlyphs">tys.</text>
<text x="697.71" y="853.70" font-size="17.15" font-weight="bold" fill="#231D5A" stroke="#231D5A" stroke-width="0.6" stroke-linejoin="round" textLength="15.34" lengthAdjust="spacingAndGlyphs">zł</text>
<text x="716.01" y="853.70" font-size="17.15" font-weight="bold" fill="#231D5A" stroke="#231D5A" stroke-width="0.6" stroke-linejoin="round" textLength="18.28" lengthAdjust="spacingAndGlyphs">za</text>
<text x="739.79" y="853.70" font-size="17.15" font-weight="bold" fill="#231D5A" stroke="#231D5A" stroke-width="0.6" stroke-linejoin="round" textLength="49.78" lengthAdjust="spacingAndGlyphs">mkw.</text>
<rect x="809" y="843.2" width="12" height="11.5" fill="#FE6B41"/>
<text x="827.11" y="853.70" font-size="17.15" font-weight="bold" fill="#231D5A" stroke="#231D5A" stroke-width="0.6" stroke-linejoin="round" textLength="37.79" lengthAdjust="spacingAndGlyphs">9–10</text>
<text x="870.37" y="853.70" font-size="17.15" font-weight="bold" fill="#231D5A" stroke="#231D5A" stroke-width="0.6" stroke-linejoin="round" textLength="31.90" lengthAdjust="spacingAndGlyphs">tys.</text>
<text x="906.21" y="853.70" font-size="17.15" font-weight="bold" fill="#231D5A" stroke="#231D5A" stroke-width="0.6" stroke-linejoin="round" textLength="15.34" lengthAdjust="spacingAndGlyphs">zł</text>
<text x="924.41" y="853.70" font-size="17.15" font-weight="bold" fill="#231D5A" stroke="#231D5A" stroke-width="0.6" stroke-linejoin="round" textLength="18.28" lengthAdjust="spacingAndGlyphs">za</text>
<text x="947.88" y="853.70" font-size="17.15" font-weight="bold" fill="#231D5A" stroke="#231D5A" stroke-width="0.6" stroke-linejoin="round" textLength="50.21" lengthAdjust="spacingAndGlyphs">mkw.</text>
<rect x="1017.8" y="843.2" width="12" height="11.5" fill="#FE4080"/>
<text x="1035.44" y="853.70" font-size="17.15" font-weight="bold" fill="#231D5A" stroke="#231D5A" stroke-width="0.6" stroke-linejoin="round" textLength="74.10" lengthAdjust="spacingAndGlyphs">powyżej</text>
<text x="1112.71" y="853.70" font-size="17.15" font-weight="bold" fill="#231D5A" stroke="#231D5A" stroke-width="0.6" stroke-linejoin="round" textLength="17.43" lengthAdjust="spacingAndGlyphs">10</text>
<text x="1135.98" y="853.70" font-size="17.15" font-weight="bold" fill="#231D5A" stroke="#231D5A" stroke-width="0.6" stroke-linejoin="round" textLength="31.48" lengthAdjust="spacingAndGlyphs">tys.</text>
<text x="1171.58" y="853.70" font-size="17.15" font-weight="bold" fill="#231D5A" stroke="#231D5A" stroke-width="0.6" stroke-linejoin="round" textLength="12.04" lengthAdjust="spacingAndGlyphs">zł</text>
<text x="1189.20" y="853.70" font-size="17.15" font-weight="bold" fill="#231D5A" stroke="#231D5A" stroke-width="0.6" stroke-linejoin="round" textLength="18.49" lengthAdjust="spacingAndGlyphs">za</text>
<text x="1213.68" y="853.70" font-size="17.15" font-weight="bold" fill="#231D5A" stroke="#231D5A" stroke-width="0.6" stroke-linejoin="round" textLength="49.99" lengthAdjust="spacingAndGlyphs">mkw.</text>
<rect x="56" y="883.5" width="1274" height="1" fill="#D6D6D6"/>
<text x="947.62" y="934.40" font-size="13.20" font-weight="normal" fill="#111111" textLength="195.36" lengthAdjust="spacingAndGlyphs">Źródło: Na podstawie danych</text>
<text x="1146.41" y="934.40" font-size="13.20" font-weight="bold" fill="#111111" textLength="186.66" lengthAdjust="spacingAndGlyphs">bigdata.rynekpierwotny.pl</text>
<text x="112.35" y="923.60" font-size="17.50" font-weight="normal" fill="#14264F" textLength="10.15" lengthAdjust="spacingAndGlyphs">B</text>
<text x="134.52" y="923.60" font-size="17.50" font-weight="normal" fill="#14264F" textLength="4.47" lengthAdjust="spacingAndGlyphs">I</text>
<text x="150.33" y="923.60" font-size="17.50" font-weight="normal" fill="#14264F" textLength="15.01" lengthAdjust="spacingAndGlyphs">G</text>
<text x="191.43" y="923.60" font-size="17.50" font-weight="normal" fill="#14264F" textLength="12.92" lengthAdjust="spacingAndGlyphs">D</text>
<text x="216.17" y="923.60" font-size="17.50" font-weight="normal" fill="#14264F" textLength="10.76" lengthAdjust="spacingAndGlyphs">A</text>
<text x="235.95" y="923.60" font-size="17.50" font-weight="normal" fill="#14264F" textLength="12.21" lengthAdjust="spacingAndGlyphs">T</text>
<text x="260.37" y="923.60" font-size="17.50" font-weight="normal" fill="#14264F" textLength="10.96" lengthAdjust="spacingAndGlyphs">A</text>
<text x="112.01" y="944.80" font-size="15.20" font-weight="normal" fill="#14264F" textLength="161.00" lengthAdjust="spacingAndGlyphs">RynekPierwotny.pl</text>
<path d="M67.07 897.50 L93.46 911.31 L67.07 925.90 L40.67 911.31 Z" fill="#72B1DD" stroke="#72B1DD" stroke-width="2.2" stroke-linejoin="round"/>
<path d="M37.14 916.56 L64.07 932.12 L64.65 960.45 L37.72 945.65 Z" fill="#E23D8E" stroke="#E23D8E" stroke-width="2.2" stroke-linejoin="round"/>
<path d="M69.33 932.11 L96.55 916.56 L95.98 945.66 L68.76 960.45 Z" fill="#9AC748" stroke="#9AC748" stroke-width="2.2" stroke-linejoin="round"/>
<path d="M51.3 912.1 L61.5 906.6 L75 906.6 L77.3 909.6 L80.1 910.6 L66.3 920.4 L61.2 917.6 L64.9 914.8 L64.6 913.3 L61.5 912.5 L55.2 914.3 Z" fill="#FFFFFF"/>
<path d="M42.6 932.6 L50.1 929 L54.2 931.4 L55.9 932.6 L57.6 934.2 L58 952.3 L53.3 950.3 L52.9 942.4 L48.9 940.5 L48.1 946.8 L42.6 944.4 Z" fill="#FFFFFF"/>
<path d="M75 941.3 L83.6 930.2 L86.8 928.6 L88.8 927 L90.7 934.2 L90.3 945.2 L85.2 948 L84.8 941.3 L81.3 942.6 L80.5 950.7 L75 953.1 Z" fill="#FFFFFF"/>

</svg>
</body></html>
